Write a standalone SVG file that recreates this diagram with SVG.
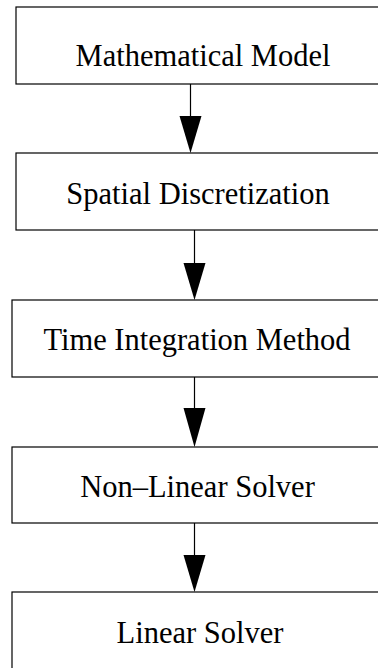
<svg xmlns="http://www.w3.org/2000/svg" width="378" height="668" viewBox="0 0 378 668">
<style>
.box{fill:#fff;stroke:#000;stroke-width:1.2}
.lbl{font-family:"Liberation Serif","Times New Roman",serif;font-size:30.5px;fill:#000;text-anchor:middle}
.edge{stroke:#000;stroke-width:1.2;fill:none}
.head{fill:#000;stroke:none}
</style>
<rect width="378" height="668" fill="#fff"/>
<g id="connectors">
<line class="edge" x1="190.5" y1="84" x2="190.5" y2="118"/>
<polygon class="head" points="179.5,116 201.5,116 190.5,153"/>
<line class="edge" x1="194.5" y1="230" x2="194.5" y2="265"/>
<polygon class="head" points="183.5,263 205.5,263 194.5,300"/>
<line class="edge" x1="194.5" y1="377" x2="194.5" y2="410"/>
<polygon class="head" points="183.5,408 205.5,408 194.5,447"/>
<line class="edge" x1="194.5" y1="523" x2="194.5" y2="557"/>
<polygon class="head" points="183.5,555 205.5,555 194.5,592"/>
</g>
<g id="n1"><rect class="box" x="16" y="7" width="400" height="77"/><text class="lbl" x="203" y="66">Mathematical Model</text></g>
<g id="n2"><rect class="box" x="16" y="153" width="400" height="77"/><text class="lbl" x="198" y="204">Spatial Discretization</text></g>
<g id="n3"><rect class="box" x="12" y="300" width="400" height="77"/><text class="lbl" x="197" y="350">Time Integration Method</text></g>
<g id="n4"><rect class="box" x="12" y="447" width="400" height="76"/><text class="lbl" x="197.5" y="497">Non–Linear Solver</text></g>
<g id="n5"><rect class="box" x="12" y="592" width="400" height="100"/><text class="lbl" x="200" y="643">Linear Solver</text></g>
</svg>
